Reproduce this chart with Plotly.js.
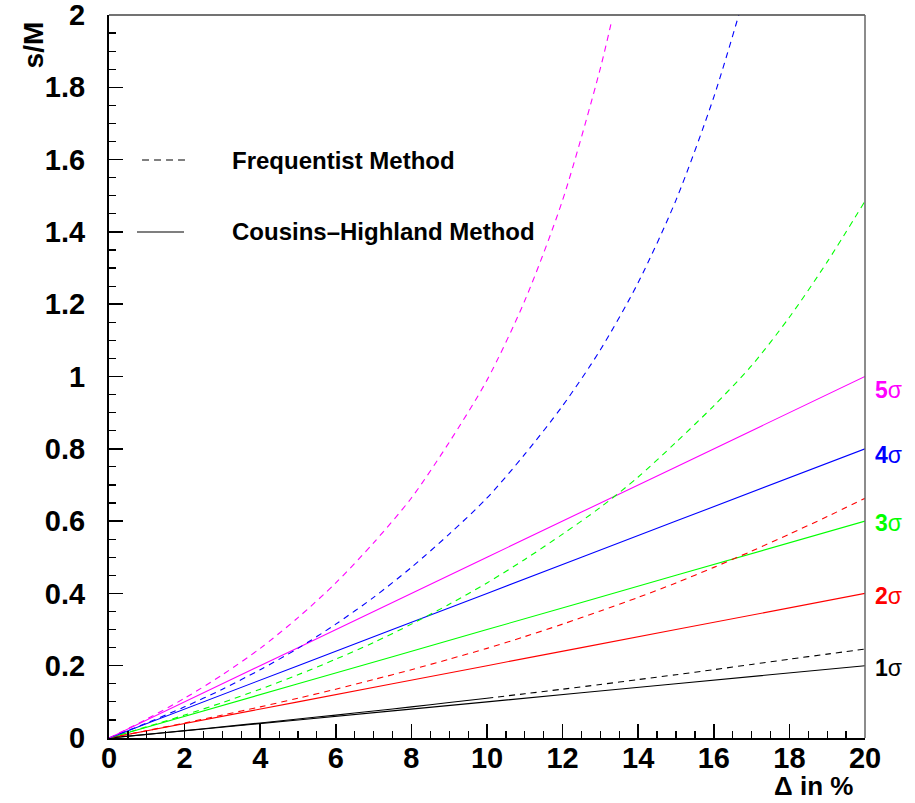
<!DOCTYPE html>
<html><head><meta charset="utf-8">
<script src="https://cdn.plot.ly/plotly-3.0.1.min.js"></script>
<style>html,body{margin:0;padding:0;background:#fff}#chart{width:915px;height:803px}</style>
</head><body><div id="chart"></div>
<script>
// Δ in % grid for the frequentist curves
const deltaFull = [0,1,2,3,4,5,6,7,8,9,10,11,12,13,14,15,16,17,18,19,20];
const freq1Sigma = [0,0.0101,0.0204,0.031,0.0415,0.0524,0.0634,0.0747,0.0862,0.098,0.110,0.1224,0.135,0.148,0.1616,0.175,0.189,0.2035,0.218,0.232,0.246];
const freq2Sigma = [0,0.0204,0.0415,0.0634,0.0862,0.110,0.135,0.1616,0.189,0.218,0.248,0.2805,0.315,0.3515,0.389,0.429,0.472,0.517,0.564,0.6126,0.663];
const freq3Sigma = [0,0.031,0.0634,0.098,0.135,0.175,0.218,0.264,0.315,0.370,0.429,0.494,0.564,0.638,0.722,0.818,0.919,1.030,1.164,1.317,1.485];
const delta4 = [0,1,2,3,4,5,6,7,8,9,10,11,12,13,14,15,16,16.8];
const freq4Sigma = [0,0.0415,0.0862,0.135,0.189,0.248,0.315,0.389,0.472,0.564,0.664,0.785,0.919,1.074,1.260,1.488,1.773,2.050];
const delta5 = [0,1,2,3,4,5,6,7,8,9,10,11,12,13,13.3];
const freq5Sigma = [0,0.0524,0.110,0.175,0.248,0.333,0.429,0.540,0.664,0.818,0.990,1.210,1.488,1.853,1.985];
// Cousins-Highland (solid)
const deltaCH = [0,5,10,15,20];
const ch1Sigma = [0,0.05,0.10,0.15,0.20];
const ch2Sigma = [0,0.10,0.20,0.30,0.40];
const ch3Sigma = [0,0.15,0.30,0.45,0.60];
const ch4Sigma = [0,0.20,0.40,0.60,0.80];
const ch5Sigma = [0,0.25,0.50,0.75,1.00];
const sigmaLabels = ['1','2','3','4','5'];
const sigmaLabelY = [0.194,0.393,0.596,0.783,0.963];
const colors = ['#000000','#ff0000','#00ff00','#0000ff','#ff00ff'];
const legendLabels = ['Frequentist Method','Cousins\u2013Highland Method'];
const xTitle = '\u0394 in %';
const yTitle = 's/M';

const FONT = 'Liberation Sans, Arial, Helvetica, sans-serif';
const DASH = '6px,5px';
function tr(x,y,color,dash){
  return {x:x,y:y,type:'scatter',mode:'lines',showlegend:false,hoverinfo:'skip',
    line:{color:color,width:1.1,dash:dash,shape:'spline',smoothing:0.8}};
}
const traces = [
  tr(deltaCH,ch1Sigma,colors[0],'solid'),
  tr(deltaCH,ch2Sigma,colors[1],'solid'),
  tr(deltaCH,ch3Sigma,colors[2],'solid'),
  tr(deltaCH,ch4Sigma,colors[3],'solid'),
  tr(deltaCH,ch5Sigma,colors[4],'solid'),
  tr(deltaFull.slice(0,11),freq1Sigma.slice(0,11),colors[0],'solid'),
  tr(deltaFull.slice(10),freq1Sigma.slice(10),colors[0],DASH),
  tr(deltaFull,freq2Sigma,colors[1],DASH),
  tr(deltaFull,freq3Sigma,colors[2],DASH),
  tr(delta4,freq4Sigma,colors[3],DASH),
  tr(delta5,freq5Sigma,colors[4],DASH)
];

const annotations = [];
for(let i=0;i<5;i++){
  annotations.push({xref:'paper',yref:'y',x:1,y:sigmaLabelY[i],xshift:8,xanchor:'left',yanchor:'middle',
    showarrow:false,text:'<b>'+sigmaLabels[i]+'</b>\u03c3',font:{family:FONT,size:23,color:colors[i]}});
}
annotations.push({xref:'paper',yref:'paper',x:0.1595,y:0.7994,xanchor:'left',yanchor:'middle',showarrow:false,
  text:legendLabels[0],font:{family:FONT,size:24,weight:700,color:'#000'}});
annotations.push({xref:'paper',yref:'paper',x:0.1595,y:0.6999,xanchor:'left',yanchor:'middle',showarrow:false,
  text:legendLabels[1],font:{family:FONT,size:24,weight:700,color:'#000'}});
annotations.push({xref:'paper',yref:'paper',x:0.9325,y:-0.0664,xanchor:'center',yanchor:'middle',showarrow:false,
  text:xTitle,font:{family:FONT,size:26,weight:700,color:'#000'}});
annotations.push({xref:'paper',yref:'paper',x:-0.1005,y:0.958,xanchor:'center',yanchor:'middle',showarrow:false,textangle:-90,
  text:yTitle,font:{family:FONT,size:28,weight:700,color:'#000'}});

const shapes = [
  {type:'line',xref:'paper',yref:'paper',x0:0,x1:1,y0:1,y1:1,line:{color:'#444',width:1.5}},
  {type:'line',xref:'paper',yref:'paper',x0:1,x1:1,y0:0,y1:1,line:{color:'#666',width:1.5}},
  {type:'line',xref:'paper',yref:'paper',x0:0.0437,x1:0.1005,y0:0.7994,y1:0.7994,line:{color:'#000',width:1.1,dash:'7px,5px'}},
  {type:'line',xref:'paper',yref:'paper',x0:0.037,x1:0.0992,y0:0.6999,y1:0.6999,line:{color:'#000',width:1.1}}
];

const layout = {
  width:915,height:803,
  margin:{l:109,r:50,t:15,b:65,pad:0},
  paper_bgcolor:'#fff',plot_bgcolor:'#fff',
  showlegend:false,
  xaxis:{range:[0,20],tick0:0,dtick:2,ticks:'inside',ticklen:14,tickwidth:1.5,tickcolor:'#000',
    showgrid:false,zeroline:false,showline:true,linecolor:'#000',linewidth:2,
    ticklabelstandoff:-7,ticklabeloverflow:'allow',
    tickfont:{family:FONT,size:29,weight:700,color:'#000'},
    minor:{dtick:0.5,ticks:'inside',ticklen:7,tickwidth:1.2,tickcolor:'#000',showgrid:false}},
  yaxis:{range:[0,2],tick0:0,dtick:0.2,ticks:'inside',ticklen:14,tickwidth:1.5,tickcolor:'#000',
    showgrid:false,zeroline:false,showline:true,linecolor:'#000',linewidth:2,
    ticklabelstandoff:16,ticklabeloverflow:'allow',
    tickfont:{family:FONT,size:29,weight:700,color:'#000'},
    minor:{dtick:0.05,ticks:'inside',ticklen:7,tickwidth:1.2,tickcolor:'#000',showgrid:false}},
  annotations:annotations,
  shapes:shapes
};
Plotly.newPlot('chart',traces,layout,{displayModeBar:false,staticPlot:true});
</script></body></html>
